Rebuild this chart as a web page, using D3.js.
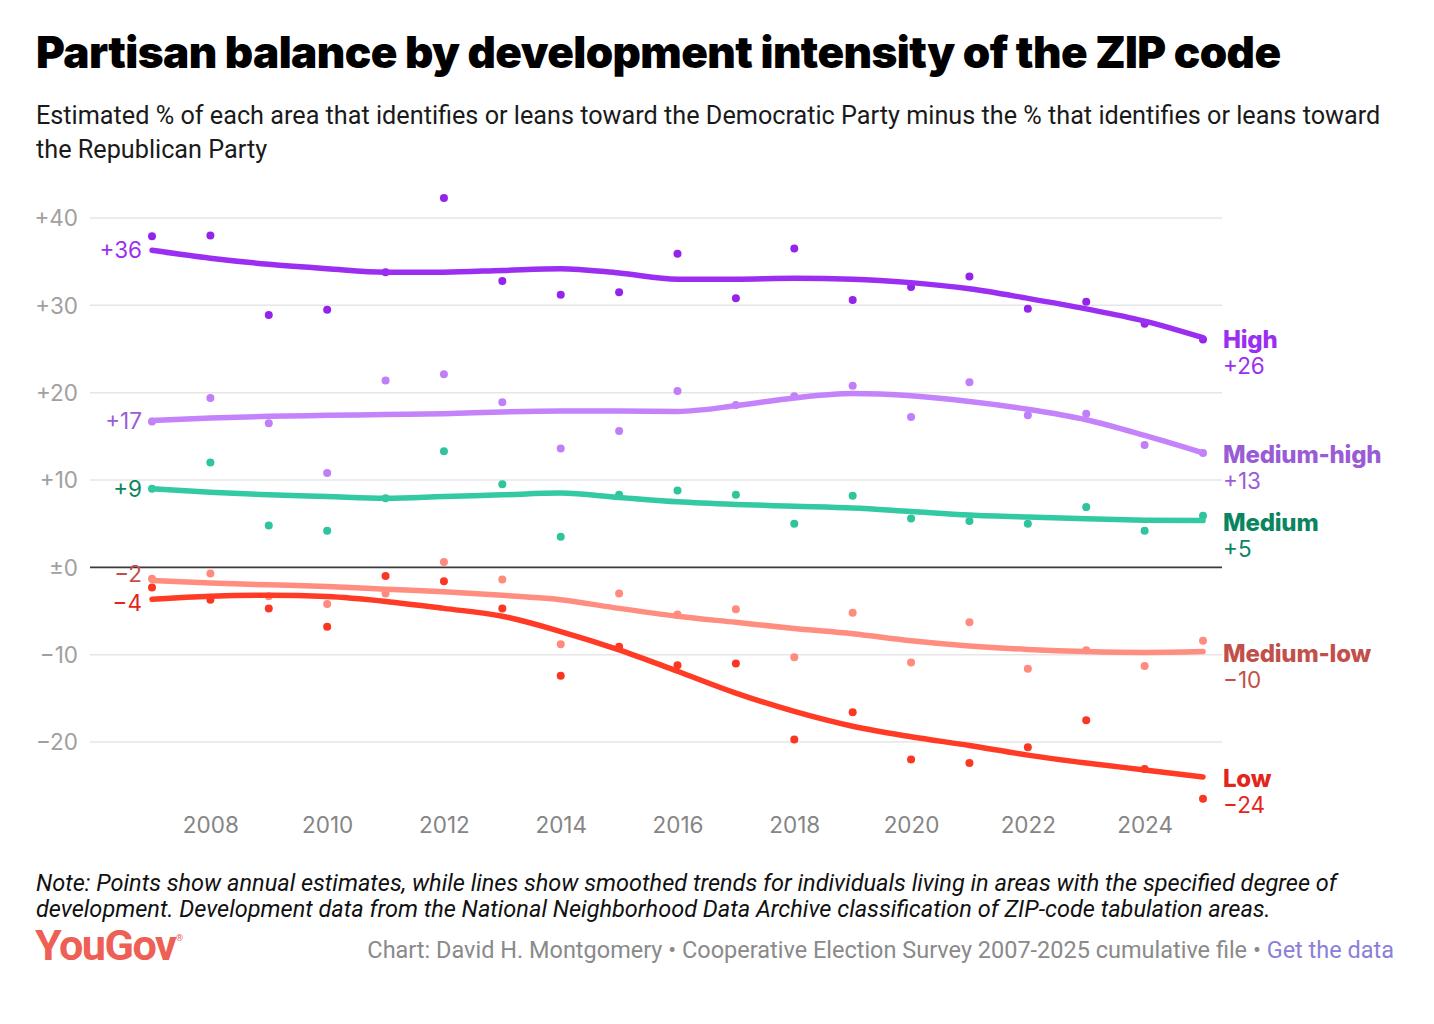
<!DOCTYPE html>
<html>
<head>
<meta charset="utf-8">
<script src="https://cdn.jsdelivr.net/npm/d3@7"></script>
<style>
  html, body { margin: 0; padding: 0; background: #fff; }
  svg { display: block; }
</style>
</head>
<body>
<svg id="chart" width="1434" height="1024"></svg>
<script>
// ---------- DATA ----------
const years = [2007,2008,2009,2010,2011,2012,2013,2014,2015,2016,2017,2018,2019,2020,2021,2022,2023,2024,2025];
const seriesNames = ["High", "Medium-high", "Medium", "Medium-low", "Low"];

// annual estimates (points)
const highPoints      = [37.9, 38.0, 28.9, 29.5, 33.8, 42.3, 32.8, 31.2, 31.5, 35.9, 30.8, 36.5, 30.6, 32.1, 33.3, 29.6, 30.4, 27.9, 26.1];
const medHighPoints   = [16.7, 19.4, 16.5, 10.8, 21.4, 22.1, 18.9, 13.6, 15.6, 20.2, 18.6, 19.6, 20.8, 17.2, 21.2, 17.4, 17.6, 14.0, 13.1];
const mediumPoints    = [9.0, 12.0, 4.8, 4.2, 7.9, 13.3, 9.5, 3.5, 8.3, 8.8, 8.3, 5.0, 8.2, 5.6, 5.3, 5.0, 6.9, 4.2, 5.9];
const medLowPoints    = [-1.3, -0.7, -3.3, -4.2, -3.0, 0.6, -1.4, -8.8, -3.0, -5.4, -4.8, -10.3, -5.2, -10.9, -6.3, -11.6, -9.5, -11.3, -8.4];
const lowPoints       = [-2.3, -3.7, -4.7, -6.8, -1.0, -1.6, -4.7, -12.4, -9.1, -11.2, -11.0, -19.7, -16.6, -22.0, -22.4, -20.6, -17.5, -23.1, -26.5];

// smoothed trends (lines)
const highTrend    = [36.3, 35.4, 34.7, 34.2, 33.8, 33.8, 34.0, 34.2, 33.7, 33.0, 33.0, 33.1, 33.0, 32.6, 31.9, 30.8, 29.6, 28.2, 26.3];
const medHighTrend = [16.8, 17.1, 17.3, 17.4, 17.5, 17.6, 17.8, 17.9, 17.9, 17.85, 18.5, 19.4, 19.9, 19.65, 19.0, 18.1, 16.9, 15.1, 13.1];
const mediumTrend  = [9.0, 8.6, 8.3, 8.1, 7.9, 8.1, 8.3, 8.5, 8.0, 7.5, 7.2, 7.0, 6.8, 6.4, 6.0, 5.75, 5.55, 5.4, 5.35];
const medLowTrend  = [-1.5, -1.8, -2.0, -2.2, -2.5, -2.8, -3.2, -3.7, -4.7, -5.6, -6.3, -7.0, -7.6, -8.4, -9.0, -9.4, -9.65, -9.75, -9.65];
const lowTrend     = [-3.65, -3.3, -3.2, -3.35, -3.9, -4.7, -5.6, -7.35, -9.45, -11.9, -14.4, -16.5, -18.2, -19.4, -20.4, -21.5, -22.4, -23.2, -24.0];

const startLabels = ["+36", "+17", "+9", "\u22122", "\u22124"];
const endLabels   = ["+26", "+13", "+5", "\u221210", "\u221224"];

const yTicks = [40, 30, 20, 10, 0, -10, -20];
const yTickLabels = ["+40", "+30", "+20", "+10", "\u00b10", "\u221210", "\u221220"];
const xTicks = [2008, 2010, 2012, 2014, 2016, 2018, 2020, 2022, 2024];

const titleText = "Partisan balance by development intensity of the ZIP code";
const subtitleLines = [
  "Estimated % of each area that identifies or leans toward the Democratic Party minus the % that identifies or leans toward",
  "the Republican Party"
];
const noteLines = [
  "Note: Points show annual estimates, while lines show smoothed trends for individuals living in areas with the specified degree of",
  "development. Development data from the National Neighborhood Data Archive classification of ZIP-code tabulation areas."
];
const creditText = "Chart: David H. Montgomery \u2022 Cooperative Election Survey 2007-2025 cumulative file \u2022 ";
const creditLink = "Get the data";

// ---------- STYLE / LAYOUT ----------
const pointsBySeries = [highPoints, medHighPoints, mediumPoints, medLowPoints, lowPoints];
const trendsBySeries = [highTrend, medHighTrend, mediumTrend, medLowTrend, lowTrend];
const lineColors  = ["#9b2ff1", "#c483fa", "#33c9a2", "#ff8d80", "#ff3b25"];
const pointColors = ["#9424ec", "#c07ef8", "#2fc49c", "#ff8a7e", "#fb3723"];
const labelColors = ["#9b2ff1", "#9a5cd6", "#0a8560", "#c2504a", "#e3261c"];
const startNudge  = [0, 0, 0, -7, 4];   // px vertical nudges to avoid overlap

const W = 1434, H = 1024;
const plotLeft = 90, plotRight = 1222;
const svg = d3.select("#chart");

const x = d3.scaleLinear().domain([2007, 2025]).range([152, 1203]);
const y = d3.scaleLinear().domain([-20, 40]).range([742, 218]);

const fitWidth = (sel, target) => {
  const w = sel.node().getComputedTextLength();
  const fs = parseFloat(sel.attr("font-size"));
  const nfs = +(fs * target / w).toFixed(2);
  sel.attr("font-size", nfs);
  return nfs;
};

// Title
const title = svg.append("text").attr("x", 36).attr("y", 68)
  .attr("font-family", "Inter, 'Noto Sans', sans-serif").attr("font-weight", 900)
  .attr("font-size", 40).attr("fill", "#000").attr("letter-spacing", -0.6).text(titleText);
fitWidth(title, 1241);

// Subtitle
let subFs = 23;
subtitleLines.forEach((t, i) => {
  const s = svg.append("text").attr("x", 36).attr("y", 124 + i * 34)
    .attr("font-family", "Roboto, sans-serif").attr("font-size", subFs)
    .attr("fill", "#1a1a1a").text(t);
  if (i === 0) subFs = fitWidth(s, 1345);
});

// Gridlines
const grid = svg.append("g");
grid.selectAll("line").data(yTicks.filter(d => d !== 0)).join("line")
  .attr("x1", plotLeft).attr("x2", plotRight)
  .attr("y1", d => y(d)).attr("y2", d => y(d))
  .attr("stroke", "#e6e6e6").attr("stroke-width", 1.5);

// Y axis via d3.axisLeft (text only)
const yAxis = svg.append("g").attr("transform", `translate(${plotLeft},0)`)
  .call(d3.axisLeft(y).tickValues(yTicks).tickSize(0).tickPadding(12)
    .tickFormat(d => yTickLabels[yTicks.indexOf(d)]));
yAxis.select(".domain").remove();
yAxis.selectAll("text").attr("font-family", "Inter, sans-serif").attr("font-size", 22.5)
  .attr("fill", "#a0a0a0").attr("dy", "0.35em");

// X axis
const xAxis = svg.append("g").attr("transform", `translate(0,${816})`)
  .call(d3.axisBottom(x).tickValues(xTicks).tickSize(0).tickPadding(0).tickFormat(d3.format("d")));
xAxis.select(".domain").remove();
xAxis.selectAll("text").attr("font-family", "Inter, sans-serif").attr("font-size", 22.5)
  .attr("fill", "#858585").attr("dy", "0.75em");

// Zero line
svg.append("line").attr("x1", plotLeft).attr("x2", plotRight)
  .attr("y1", y(0)).attr("y2", y(0)).attr("stroke", "#3a3a3a").attr("stroke-width", 1.8);

// Points & lines
const line = d3.line().x((d, i) => x(years[i])).y(d => y(d)).curve(d3.curveMonotoneX);

seriesNames.forEach((name, s) => {
  const g = svg.append("g");
  g.selectAll("circle").data(pointsBySeries[s]).join("circle")
    .attr("cx", (d, i) => x(years[i])).attr("cy", d => y(d)).attr("r", 4)
    .attr("fill", pointColors[s]);
  g.append("path").datum(trendsBySeries[s]).attr("d", line)
    .attr("fill", "none").attr("stroke", lineColors[s]).attr("stroke-width", 5.5)
    .attr("stroke-linecap", "round").attr("stroke-linejoin", "round");
});

// Start labels
seriesNames.forEach((name, s) => {
  const yv = y(trendsBySeries[s][0]) + startNudge[s];
  svg.append("text").attr("x", 142).attr("y", yv).attr("dy", "0.36em")
    .attr("text-anchor", "end").attr("font-family", "Inter, sans-serif")
    .attr("font-size", 22.5).attr("fill", labelColors[s]).text(startLabels[s]);
});

// End labels
seriesNames.forEach((name, s) => {
  const yEnd = y(trendsBySeries[s][trendsBySeries[s].length - 1]);
  svg.append("text").attr("x", 1223).attr("y", yEnd + 10)
    .attr("font-family", "Inter, sans-serif").attr("font-weight", 800)
    .attr("font-size", 24).attr("fill", labelColors[s]).attr("letter-spacing", -0.2).text(name);
  svg.append("text").attr("x", 1223).attr("y", yEnd + 36)
    .attr("font-family", "Inter, sans-serif").attr("font-weight", 400)
    .attr("font-size", 22.5).attr("fill", labelColors[s]).text(endLabels[s]);
});

// Note
let noteFs = 20;
noteLines.forEach((t, i) => {
  const n = svg.append("text").attr("x", 36).attr("y", 891 + i * 26)
    .attr("font-family", "Roboto, sans-serif").attr("font-style", "italic")
    .attr("font-size", noteFs).attr("fill", "#111").text(t);
  if (i === 0) noteFs = fitWidth(n, 1301);
});

// Logo
const logo = svg.append("text").attr("x", 35).attr("y", 960)
  .attr("font-family", "Roboto, sans-serif").attr("font-weight", 700)
  .attr("font-size", 34).attr("fill", "#ee5f55").attr("letter-spacing", -1.5).text("YouGov");
fitWidth(logo, 138);
svg.append("text").attr("x", 176).attr("y", 941).attr("font-family", "Roboto, sans-serif")
  .attr("font-size", 9).attr("fill", "#ee5f55").text("\u00ae");

// Credits
const credit = svg.append("text").attr("x", 1394).attr("y", 958).attr("text-anchor", "end")
  .attr("font-family", "Roboto, sans-serif").attr("font-size", 21).attr("fill", "#8a8a8a");
credit.append("tspan").text(creditText);
credit.append("tspan").attr("fill", "#8b80d8").text(creditLink);
fitWidth(credit, 1027);
</script>
</body>
</html>
